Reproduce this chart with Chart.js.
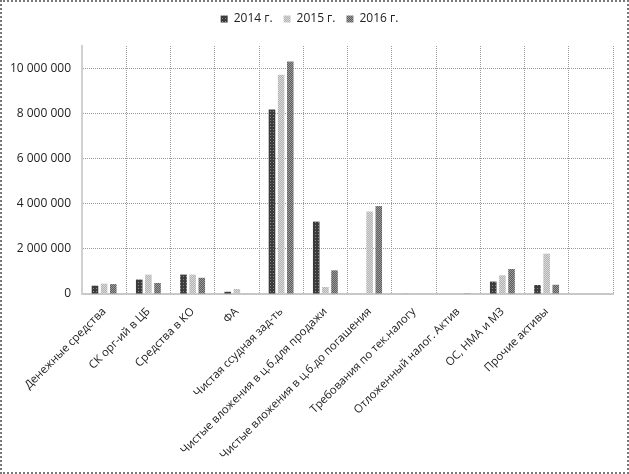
<!DOCTYPE html>
<html lang="ru">
<head>
  <meta charset="UTF-8" />
  <title>Активы</title>
  <script src="https://cdn.jsdelivr.net/npm/chart.js"></script>
  <style>
    html, body { margin: 0; padding: 0; background: #fff; }
    .frame {
      width: 629px;
      height: 474px;
      box-sizing: border-box;
      border: 2px dotted #777;
      position: relative;
    }
    .frame canvas { display: block; }
  </style>
</head>
<body>
<div class="frame">
  <canvas id="assetsChart" width="625" height="470"></canvas>
</div>

<script>
  const categories = [
    'Денежные средства',
    'СК орг-ий в ЦБ',
    'Средства в КО',
    'ФА',
    'Чистая ссудная зад-ть',
    'Чистые вложения в ц.б.для продажи',
    'Чистые вложения в ц.б.до погашения',
    'Требования по тек.налогу',
    'Отложенный налог. Актив',
    'ОС, НМА и МЗ',
    'Прочие активы',
    ''
  ];
  const years = ['2014 г.', '2015 г.', '2016 г.'];
  const values2014 = [370000, 640000, 860000, 100000, 8180000, 3210000, 0, 20000, 0, 550000, 400000, null];
  const values2015 = [460000, 860000, 860000, 220000, 9730000, 310000, 3660000, 0, 0, 830000, 1790000, null];
  const values2016 = [440000, 490000, 720000, 20000, 10310000, 1050000, 3900000, 20000, 10000, 1110000, 410000, null];
  const yTicks = [0, 2000000, 4000000, 6000000, 8000000, 10000000];

  // small dotted fills, like the Excel pattern bars
  function makePattern(bg, dot) {
    const c = document.createElement('canvas');
    c.width = 3; c.height = 3;
    const g = c.getContext('2d');
    g.fillStyle = bg;
    g.fillRect(0, 0, 3, 3);
    g.fillStyle = dot;
    g.fillRect(1, 1, 1, 1);
    return g.createPattern(c, 'repeat');
  }

  function checker(a, b) {
    const c = document.createElement('canvas');
    c.width = 2; c.height = 2;
    const g = c.getContext('2d');
    g.fillStyle = a;
    g.fillRect(0, 0, 2, 2);
    g.fillStyle = b;
    g.fillRect(0, 0, 1, 1);
    g.fillRect(1, 1, 1, 1);
    return g.createPattern(c, 'repeat');
  }

  const fills = [
    makePattern('#3c3c3c', '#8a8a8a'),
    checker('#b2b2b2', '#dadada'),
    checker('#5e5e5e', '#9a9a9a')
  ];

  const fmt = v => String(v).replace(/\B(?=(\d{3})+(?!\d))/g, ' ');
  const font = { family: 'Open Sans', size: 12 };

  const data = {
    labels: categories,
    datasets: [values2014, values2015, values2016].map((vals, i) => ({
      label: years[i],
      data: vals,
      backgroundColor: fills[i],
      borderWidth: 0,
      categoryPercentage: 0.62,
      barPercentage: 0.72
    }))
  };

  // extra room under the legend
  const legendGap = {
    id: 'legendGap',
    beforeInit(chart) {
      const fit = chart.legend.fit;
      chart.legend.fit = function () {
        fit.call(this);
        this.height += 11;
      };
    }
  };

  new Chart(document.getElementById('assetsChart'), {
    type: 'bar',
    data: data,
    plugins: [legendGap],
    options: {
      responsive: false,
      animation: false,
      layout: { padding: { left: 4, right: 14, top: 0, bottom: 0 } },
      plugins: {
        legend: {
          position: 'top',
          labels: {
            boxWidth: 7,
            boxHeight: 7,
            padding: 11,
            color: '#222',
            font: font
          }
        },
        tooltip: { enabled: false }
      },
      scales: {
        x: {
          grid: { color: '#9a9a9a', drawTicks: false, offset: true },
          border: { color: '#c8c8c8', width: 2, dash: [1, 1] },
          afterFit: s => { s.height = 178; s.paddingLeft = 0; s.paddingRight = 0; },
          ticks: {
            minRotation: 45,
            maxRotation: 45,
            autoSkip: false,
            padding: 11,
            color: '#222',
            font: { family: 'Open Sans', size: 11.3 }
          }
        },
        y: {
          min: 0,
          max: 11000000,
          afterBuildTicks: axis => { axis.ticks = yTicks.map(v => ({ value: v })); },
          afterFit: s => { s.width = 76; },
          grid: { color: '#9a9a9a', drawTicks: false },
          border: { color: '#d0d0d0', width: 2, dash: [1, 1] },
          ticks: {
            padding: 11,
            color: '#222',
            font: font,
            callback: v => fmt(v)
          }
        }
      }
    }
  });
</script>
</body>
</html>
